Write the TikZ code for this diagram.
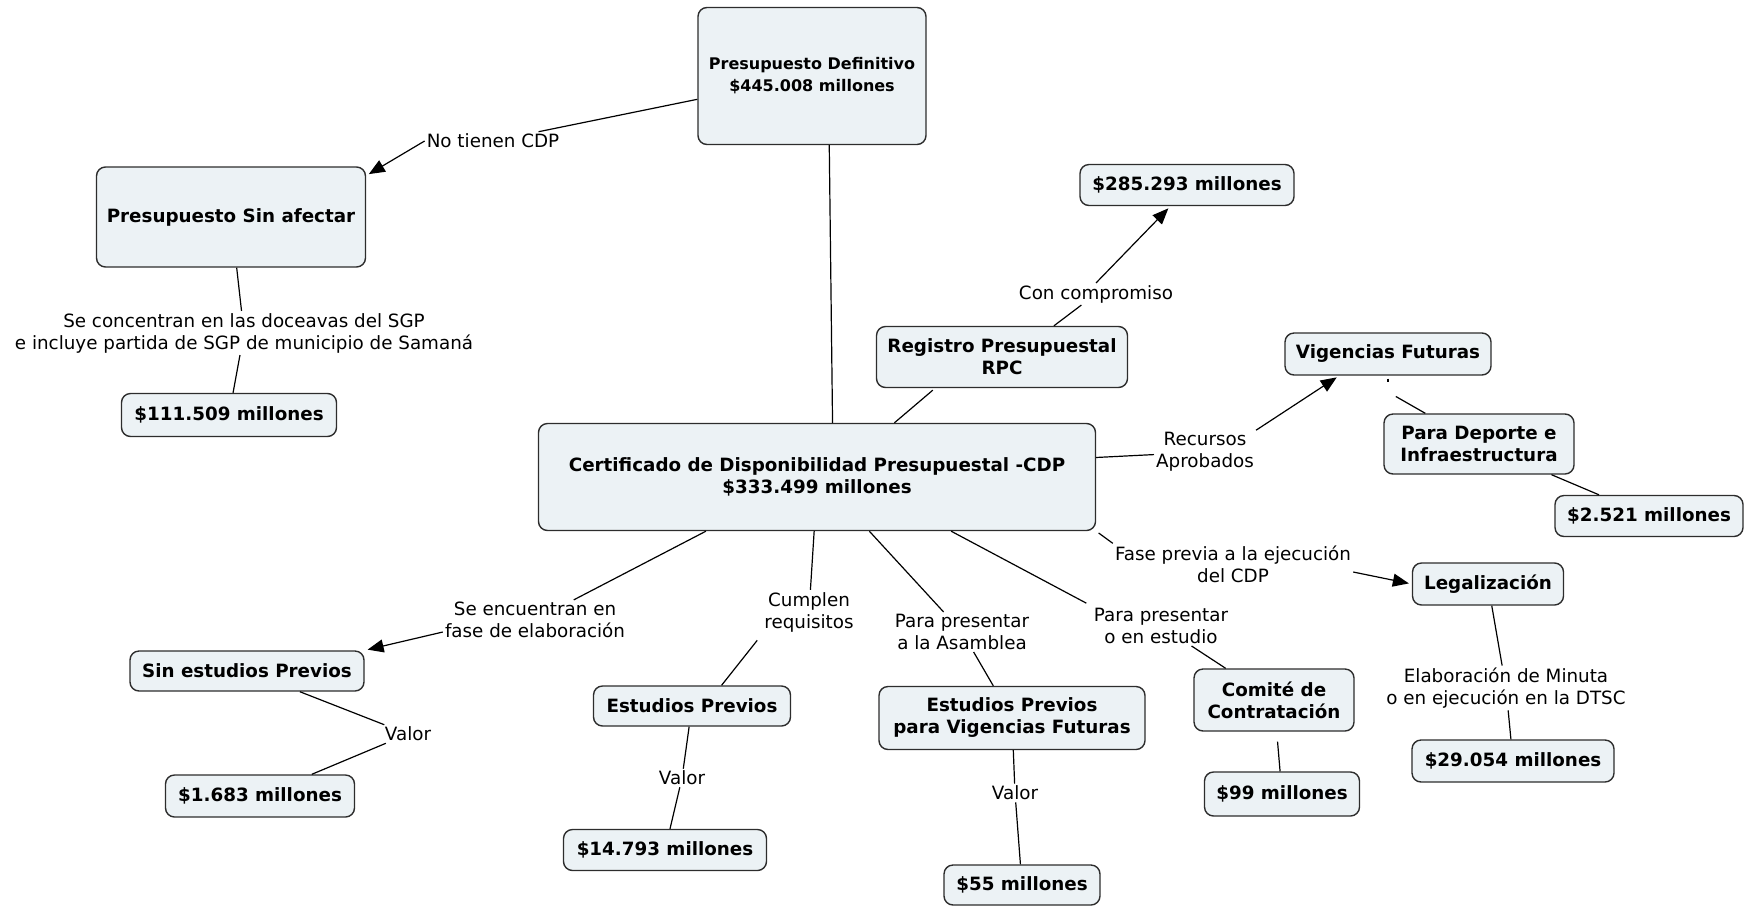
\documentclass[tikz,border=0pt]{standalone}
\usepackage{fontspec}
\setmainfont{DejaVu Sans}
\usetikzlibrary{arrows.meta}
\definecolor{boxfill}{RGB}{236,242,245}
\definecolor{boxline}{RGB}{45,45,45}
\newcommand\myfs{\fontsize{18.3}{22}\selectfont}
\newcommand\myfsb{\fontsize{16}{22}\selectfont}
\tikzset{
  box/.style={draw=boxline, fill=boxfill, line width=1.4pt, rounded corners=9pt, font=\bfseries\myfs, align=center, inner sep=0pt},
  bx/.style 2 args={box, minimum width=#1, minimum height=#2},
  lbl/.style={font=\myfs, align=center, inner sep=2pt},
  conn/.style={draw=black, line width=1.2pt},
  arr/.style={conn, -{Triangle[length=16pt,width=13pt]}, shorten >=3pt},
}
\begin{document}
\begin{tikzpicture}[x=1pt,y=1pt]
\useasboundingbox (0,0) rectangle (1745,-906);
% boxes
\node[bx={228}{137}, font=\bfseries\myfsb] (PD) at (812,-76) {Presupuesto Definitivo\\\$445.008 millones};
\node[bx={269}{100}] (PSA) at (231,-217) {Presupuesto Sin afectar};
\node[bx={215}{43}] (v111) at (229,-415) {\$111.509 millones};
\node[bx={557}{107}] (CDP) at (817,-477) {Certificado de Disponibilidad Presupuestal -CDP\\\$333.499 millones};
\node[bx={214}{41}] (v285) at (1187,-185) {\$285.293 millones};
\node[bx={251}{61}] (RPC) at (1002,-357) {Registro Presupuestal\\RPC};
\node[bx={206}{42}] (VF) at (1388,-354) {Vigencias Futuras};
\node[bx={190}{60}] (PDep) at (1479,-444) {Para Deporte e\\Infraestructura};
\node[bx={188}{41}] (v2521) at (1649,-516) {\$2.521 millones};
\node[bx={151}{42}] (Leg) at (1488,-584) {Legalización};
\node[bx={202}{42}] (v29) at (1513,-761) {\$29.054 millones};
\node[bx={160}{62}] (Com) at (1274,-700) {Comité de\\Contratación};
\node[bx={155}{44}] (v99) at (1282,-794) {\$99 millones};
\node[bx={266}{63}] (EPVF) at (1012,-718) {Estudios Previos\\para Vigencias Futuras};
\node[bx={156}{40}] (v55) at (1022,-885) {\$55 millones};
\node[bx={197}{40}] (EP) at (692,-706) {Estudios Previos};
\node[bx={203}{41}] (v14) at (665,-850) {\$14.793 millones};
\node[bx={234}{40}] (SEP) at (247,-671) {Sin estudios Previos};
\node[bx={189}{42}] (v1683) at (260,-796) {\$1.683 millones};
% labels
\node[lbl] (lnocdp) at (493,-141) {No tienen CDP};
\node[lbl] (lsgp) at (244,-333) {Se concentran en las doceavas del SGP\\e incluye partida de SGP de municipio de Samaná};
\node[lbl] (lcon) at (1096,-294) {Con compromiso};
\node[lbl] (lrec) at (1205,-452) {Recursos\\Aprobados};
\node[lbl] (lfase) at (1233,-564) {Fase previa a la ejecución\\del CDP};
\node[lbl] (lfe) at (535,-620) {Se encuentran en\\fase de elaboración};
\node[lbl] (lcum) at (809,-612) {Cumplen\\requisitos};
\node[lbl] (lasam) at (962,-632) {Para presentar\\a la Asamblea};
\node[lbl] (lppe) at (1161,-626) {Para presentar\\o en estudio};
\node[lbl] (lv1) at (408,-734) {Valor};
\node[lbl] (lv2) at (682,-778) {Valor};
\node[lbl] (lv3) at (1015,-793) {Valor};
\node[lbl] (lmin) at (1506,-688) {Elaboración de Minuta\\o en ejecución en la DTSC};
\coordinate (vfb) at (1388,-392);
% connectors
\draw[conn] (PD) -- (lnocdp);
\draw[arr] (lnocdp.west) -- (PSA.17);
\draw[conn] (PD.-76) -- (CDP.74);
\draw[conn] (PSA) -- (lsgp);
\draw[conn] (lsgp) -- (v111);
\draw[conn, shorten >=3pt] (CDP.35) -- (RPC.205);
\draw[conn] (RPC.31) -- (lcon);
\draw[arr] (lcon.north) -- (v285.-128);
\draw[conn] (CDP.4) -- (lrec);
\draw[arr] (lrec.north east) -- (VF.204);
\draw[conn, shorten <=3pt, shorten >=10pt] (VF.south) -- (vfb);
\draw[conn, shorten <=9pt] (vfb) -- (PDep);
\draw[conn] (PDep) -- (v2521);
\draw[conn, shorten <=3pt] (CDP.south east) -- (lfase.north west);
\draw[arr] ([yshift=-8pt]lfase.east) -- (Leg.west);
\draw[conn] (Leg) -- (lmin);
\draw[conn] (lmin) -- (v29);
\draw[conn, shorten >=6pt] (CDP.-22.5) -- (lppe.north west);
\draw[conn] (lppe) -- (Com);
\draw[conn] (CDP.-46) -- (lasam);
\draw[conn] (lasam) -- (EPVF);
\draw[conn] (CDP.-93) -- (lcum);
\draw[conn, shorten <=8pt] (lcum.south west) -- (EP.35);
\draw[conn] (CDP.206) -- (lfe);
\draw[arr] ([yshift=-12pt]lfe.west) -- (SEP.north east);
\draw[conn] (SEP) -- (lv1);
\draw[conn] (lv1) -- (v1683);
\draw[conn] (EP) -- (lv2);
\draw[conn] (lv2) -- (v14);
\draw[conn] (EPVF) -- (lv3);
\draw[conn] (lv3) -- (v55);
\draw[conn, shorten <=10pt] (Com) -- (v99);
\end{tikzpicture}
\end{document}
